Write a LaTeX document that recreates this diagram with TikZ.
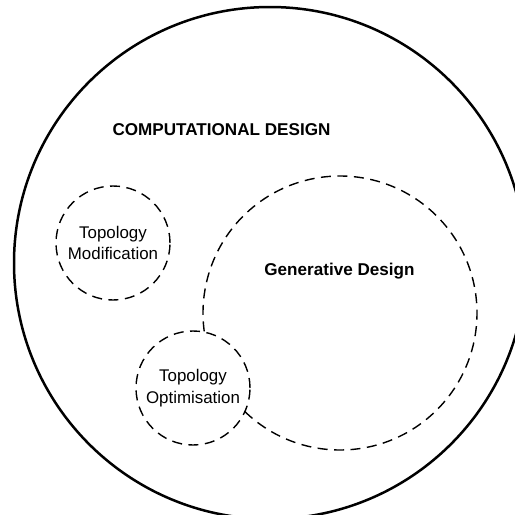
\documentclass[tikz,border=0pt]{standalone}
\usepackage{fontspec}
\setmainfont{Liberation Sans}
\usetikzlibrary{calc}

\begin{document}
\begin{tikzpicture}[
    x=1pt, y=1pt,
    every node/.style={anchor=center},
    field/.style={line width=2.5pt},
    dashline/.style={line width=1.4pt, dash pattern=on 10pt off 6.5pt},
    method/.style={circle, draw, dashline, minimum size=114pt, inner sep=0pt, outer sep=0pt, align=center, font=\fontsize{16.9}{21.5}\selectfont},
    heading/.style={anchor=base, font=\bfseries\fontsize{17.1}{20}\selectfont}
    ]

% Frame
\useasboundingbox (0,0) rectangle (515,-515);

% Computational design
\coordinate (comp) at (270,-263);
\draw[field] (comp) circle[radius=256];
\node[heading] (comp label) at (221.5,-135) {COMPUTATIONAL DESIGN};

% Topology methods
\node[method] (topmod) at (113,-243) {Topology\\Modification};
\node[method] (topopt) at (193,-388) {Topology\\Optimisation};

% Generative design
\coordinate (gen) at (340,-313);
\draw[dashline] ($(gen)+(226.1:137)$) arc[start angle=226.1, end angle=548, radius=137];
\node[heading] (gen label) at (339.5,-275) {Generative Design};

\end{tikzpicture}
\end{document}
